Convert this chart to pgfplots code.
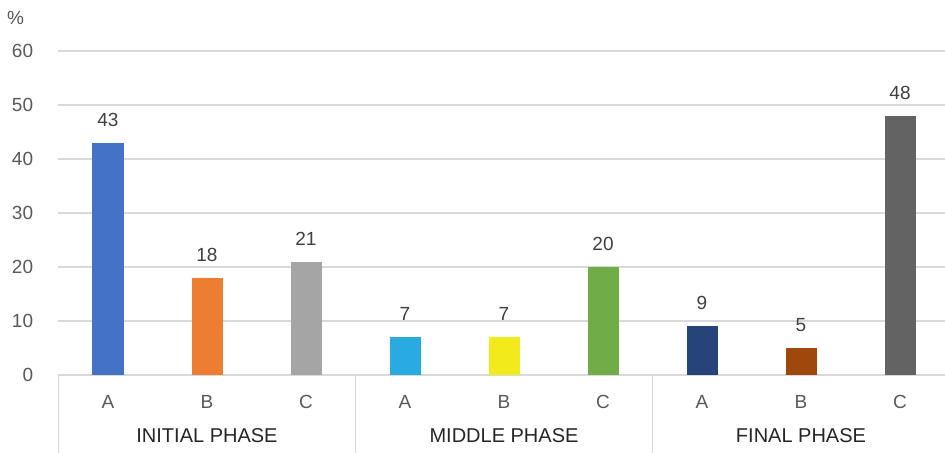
\documentclass[border=0pt]{standalone}
\usepackage{fontspec}
\setmainfont{Liberation Sans}
\usepackage{pgfplots}
\pgfplotsset{compat=1.18}

\definecolor{gridgray}{HTML}{D9D9D9}
\definecolor{ticktext}{HTML}{595959}
\definecolor{valtext}{HTML}{404040}
\definecolor{grptext}{HTML}{262626}
\definecolor{iniA}{HTML}{4472C4}
\definecolor{iniB}{HTML}{ED7D31}
\definecolor{iniC}{HTML}{A5A5A5}
\definecolor{midA}{HTML}{29ABE2}
\definecolor{midB}{HTML}{F2EA1B}
\definecolor{midC}{HTML}{70AD47}
\definecolor{finA}{HTML}{264478}
\definecolor{finB}{HTML}{9E480E}
\definecolor{finC}{HTML}{636363}

\newcommand{\lbl}{\fontsize{9.5}{11}\selectfont}
\newcommand{\grp}{\fontsize{10}{12}\selectfont}
\tikzset{sep/.style={draw=gridgray, line width=0.75pt}}

\begin{document}
\begin{tikzpicture}[x=1pt,y=1pt]
\useasboundingbox (-29.25,-39) rectangle (443.25,187.5);
\begin{axis}[
    at={(0,0)}, anchor=south west,
    scale only axis,
    width=445.5pt, height=162pt,
    xmin=-0.5, xmax=8.5,
    ymin=0, ymax=60,
    ytick={0,10,...,60},
    xtick={0,...,8},
    xticklabels={A,B,C,A,B,C,A,B,C},
    ymajorgrids,
    grid style={draw=gridgray, line width=0.75pt},
    axis line style={draw=none},
    major tick style={draw=none},
    clip=false,
    /pgf/number format/assume math mode=true,
    ticklabel style={font=\lbl, text=ticktext, inner sep=0pt},
    yticklabel style={xshift=-12.5pt},
    xticklabel style={yshift=-10pt},
    bar/.style={ybar, bar width=15.5pt, draw=none, fill=#1,
        nodes near coords,
        every node near coord/.append style={font=\lbl, text=valtext,
            inner sep=0pt, anchor=south, yshift=8pt}},
]
\addplot[bar=iniA] coordinates {(0,43)};
\addplot[bar=iniB] coordinates {(1,18)};
\addplot[bar=iniC] coordinates {(2,21)};
\addplot[bar=midA] coordinates {(3,7)};
\addplot[bar=midB] coordinates {(4,7)};
\addplot[bar=midC] coordinates {(5,20)};
\addplot[bar=finA] coordinates {(6,9)};
\addplot[bar=finB] coordinates {(7,5)};
\addplot[bar=finC] coordinates {(8,48)};

% group separators below the axis
\draw[sep] (axis cs:-0.5,0) -- ([yshift=-40pt]axis cs:-0.5,0);
\draw[sep] (axis cs:2.5,0) -- ([yshift=-40pt]axis cs:2.5,0);
\draw[sep] (axis cs:5.5,0) -- ([yshift=-40pt]axis cs:5.5,0);
\draw[sep] (axis cs:8.5,0) -- ([yshift=-40pt]axis cs:8.5,0);

\node[font=\grp, text=grptext, anchor=north, inner sep=0pt] at ([yshift=-26.5pt]axis cs:1,0) {INITIAL PHASE};
\node[font=\grp, text=grptext, anchor=north, inner sep=0pt] at ([yshift=-26.5pt]axis cs:4,0) {MIDDLE PHASE};
\node[font=\grp, text=grptext, anchor=north, inner sep=0pt] at ([yshift=-26.5pt]axis cs:7,0) {FINAL PHASE};
\node[font=\lbl, text=ticktext, inner sep=0pt] at ([xshift=-21.5pt, yshift=16.5pt]rel axis cs:0,1) {\%};
\end{axis}
\end{tikzpicture}
\end{document}
